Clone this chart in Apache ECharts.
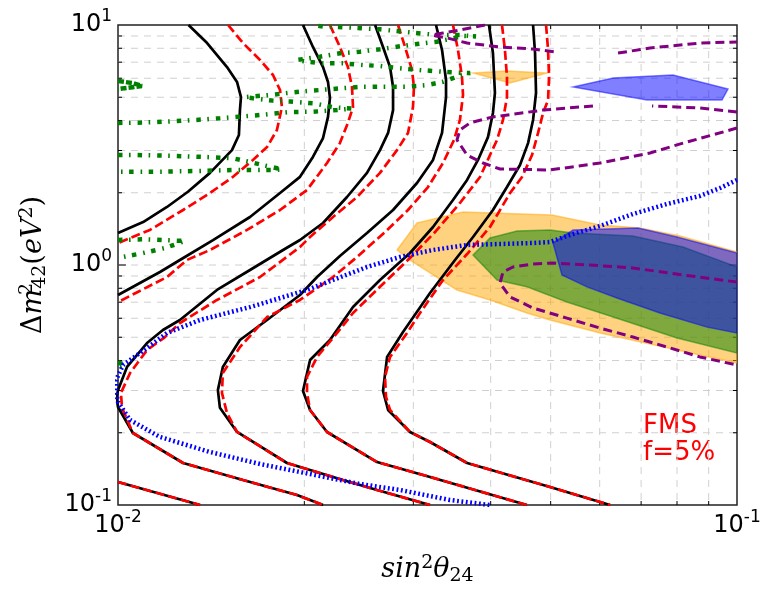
<!DOCTYPE html>
<html>
<head>
<meta charset="utf-8">
<script src="https://cdn.jsdelivr.net/npm/echarts@6/dist/echarts.min.js"></script>
<style>
  html, body { margin: 0; padding: 0; background: #fff; }
  #chart { width: 775px; height: 596px; }
</style>
</head>
<body>
<div id="chart"></div>
<script>
// dashed grid positions (inside each decade)
const gridX = [0.02, 0.03, 0.04, 0.05, 0.06, 0.07, 0.08, 0.09];
const gridY = [0.2, 0.3, 0.4, 0.5, 0.6, 0.7, 0.8, 0.9, 1, 2, 3, 4, 5, 6, 7, 8, 9];

// black solid contours
const blackA = [[0.0130,10],[0.01393,8.41],[0.0150,6.68],[0.01557,5.79],[0.0158,5.01],[0.01574,4.42],[0.01568,3.48],[0.01528,3.01],[0.01408,2.42],[0.01297,2.02],[0.0120,1.745],[0.01098,1.51],[0.0100,1.36]];
const blackB = [[0.0199,10],[0.02065,8.10],[0.02144,6.68],[0.02184,5.79],[0.0220,4.97],[0.02184,4.14],[0.02144,3.38],[0.02065,2.82],[0.01968,2.33],[0.01827,1.995],[0.01634,1.585],[0.01424,1.27],[0.01259,1.049],[0.01169,0.935],[0.0100,0.750]];
const lowB = [[0.0100,0.1247],[0.01357,0.1]];
const blackC = [[0.02602,10],[0.0268,8.10],[0.02751,6.68],[0.02782,5.52],[0.02782,4.42],[0.02731,3.55],[0.0265,3.01],[0.02525,2.42],[0.02344,1.92],[0.02144,1.496],[0.01968,1.271],[0.01848,1.155],[0.01634,0.953],[0.01445,0.787],[0.01259,0.590],[0.01182,0.536],[0.01114,0.473],[0.01034,0.376],[0.0100,0.301],[0.00995,0.279],[0.0100,0.256],[0.01057,0.1995],[0.01274,0.1496],[0.01592,0.1271],[0.01946,0.110],[0.02144,0.1]];
const blackD = [[0.03264,10],[0.03338,7.87],[0.03388,5.90],[0.03388,5.01],[0.03338,3.55],[0.03228,2.74],[0.03041,2.196],[0.02782,1.695],[0.02525,1.359],[0.02283,1.090],[0.02097,0.891],[0.01968,0.750],[0.01741,0.590],[0.01574,0.487],[0.01477,0.376],[0.0145,0.301],[0.01461,0.254],[0.01557,0.2015],[0.01875,0.1496],[0.02309,0.1271],[0.02621,0.1155],[0.03192,0.1]];
const blackE = [[0.03975,10],[0.04034,7.64],[0.04064,5.21],[0.04034,4.30],[0.0396,3.41],[0.03816,2.74],[0.03664,2.261],[0.03477,1.866],[0.03228,1.44],[0.02963,1.122],[0.0265,0.866],[0.02397,0.668],[0.0220,0.487],[0.02043,0.402],[0.0199,0.2985],[0.02043,0.2488],[0.02176,0.2015],[0.02621,0.151],[0.03192,0.1309],[0.04577,0.1]];
const blackF = [[0.04683,10],[0.04718,7.64],[0.04735,5.21],[0.04683,4.02],[0.04597,3.22],[0.04461,2.611],[0.0425,2.113],[0.04034,1.695],[0.03746,1.308],[0.03503,1.049],[0.03192,0.764],[0.02887,0.526],[0.02721,0.414],[0.0268,0.2985],[0.02731,0.2488],[0.02963,0.2015],[0.03192,0.183],[0.03664,0.1496],[0.04988,0.1189],[0.06236,0.1]];

// red dashed contours
const redA = [[0.01506,10],[0.01592,8.41],[0.01696,7.15],[0.0178,6.19],[0.01827,5.36],[0.0184,4.55],[0.01806,3.65],[0.01741,3.10],[0.01652,2.74],[0.01534,2.33],[0.01408,1.995],[0.01274,1.695],[0.01126,1.40],[0.0100,1.235]];
const redB = [[0.0220,10],[0.02283,8.10],[0.02352,6.68],[0.02388,5.52],[0.02397,4.55],[0.02352,3.91],[0.02283,3.22],[0.02176,2.66],[0.0202,2.054],[0.01827,1.695],[0.01616,1.40],[0.01408,1.155],[0.01292,1.049],[0.0120,0.891],[0.0100,0.701]];
const redC = [[0.02834,10],[0.02909,8.10],[0.02985,6.49],[0.03007,5.52],[0.02996,4.55],[0.02941,3.55],[0.02823,3.01],[0.0265,2.42],[0.02433,1.92],[0.02225,1.585],[0.02043,1.308],[0.01968,1.189],[0.01696,0.891],[0.01445,0.715],[0.01259,0.573],[0.01191,0.501],[0.01114,0.442],[0.01046,0.355],[0.01011,0.293],[0.01015,0.254],[0.01057,0.1995],[0.01274,0.1496],[0.01592,0.1271],[0.01946,0.110],[0.02144,0.1]];
const redD = [[0.03477,10],[0.03542,7.87],[0.03595,6.07],[0.03609,5.11],[0.03568,4.02],[0.0349,3.32],[0.0335,2.66],[0.03168,2.113],[0.02941,1.695],[0.027,1.372],[0.02433,1.080],[0.02225,0.891],[0.01968,0.715],[0.01741,0.607],[0.01574,0.455],[0.01477,0.355],[0.01472,0.293],[0.0150,0.2416],[0.01557,0.2015],[0.01875,0.1496],[0.02309,0.1271],[0.02621,0.1155],[0.03192,0.1]];
const redE = [[0.04172,10],[0.04218,7.87],[0.0425,6.07],[0.0425,5.01],[0.04188,4.02],[0.04096,3.32],[0.0399,2.872],[0.03845,2.326],[0.03568,1.813],[0.03264,1.386],[0.02963,1.070],[0.0265,0.811],[0.02397,0.631],[0.02259,0.521],[0.02097,0.414],[0.0202,0.3415],[0.0202,0.293],[0.02043,0.2488],[0.02176,0.2015],[0.02621,0.151],[0.03192,0.1309],[0.04577,0.1]];
const redF = [[0.04915,10],[0.04952,7.87],[0.0497,6.07],[0.04952,4.87],[0.04861,4.30],[0.04771,3.55],[0.04665,2.872],[0.04495,2.326],[0.04299,1.995],[0.0399,1.44],[0.03664,1.111],[0.0335,0.866],[0.03075,0.631],[0.02931,0.521],[0.02751,0.414],[0.027,0.3415],[0.0271,0.2818],[0.02751,0.2488],[0.02963,0.2015],[0.03192,0.183],[0.03664,0.1496],[0.04988,0.1189],[0.06236,0.1]];

// blue dotted contour
const blueDot = [[0.1,2.261],[0.0939,2.093],[0.0871,1.939],[0.0771,1.796],[0.0679,1.631],[0.0601,1.454],[0.0531,1.321],[0.04988,1.247],[0.04683,1.235],[0.04141,1.223],[0.03664,1.212],[0.03228,1.155],[0.02855,1.080],[0.02525,0.981],[0.02225,0.866],[0.0202,0.787],[0.01634,0.668],[0.01357,0.590],[0.0120,0.521],[0.01114,0.451],[0.01019,0.383],[0.00993,0.332],[0.00993,0.296],[0.0100,0.2687],[0.01046,0.226],[0.01169,0.192],[0.01408,0.1663],[0.01696,0.1482],[0.02043,0.1346],[0.0246,0.1223],[0.02855,0.1155],[0.03438,0.1049],[0.0399,0.1]];

// purple dashed contours
const purpleTop = [[0.03916,10],[0.03568,9.53],[0.0335,9.26],[0.03216,9.08],[0.03401,8.83],[0.03664,8.41],[0.04141,8.10],[0.04683,7.94],[0.05082,7.72]];
const purpleTopRight = [[0.06424,7.64],[0.07236,8.02],[0.0871,8.41],[0.1,8.50]];
const purpleMidA = [[0.1,4.34],[0.0871,4.51],[0.0729,4.60]];
const purpleMidB = [[0.05852,4.60],[0.04861,4.42],[0.04034,4.14],[0.03705,3.91],[0.03568,3.65],[0.03529,3.32],[0.03664,2.872],[0.03887,2.661],[0.04141,2.512],[0.04988,2.489],[0.0601,2.661],[0.07236,2.929],[0.0818,3.22],[0.1,3.72]];
const purpleLow = [[0.1,0.849],[0.0818,0.909],[0.0679,0.972],[0.05787,1.0],[0.05044,1.019],[0.04683,1.01],[0.04346,0.981],[0.04188,0.935],[0.04141,0.841],[0.04299,0.736],[0.04683,0.662],[0.0531,0.601],[0.0601,0.546],[0.0679,0.501],[0.0771,0.455],[0.0871,0.414],[0.1,0.383]];

// green dash-dot contours
const greenMain = [[0.01,3.91],[0.01098,3.92],[0.01274,3.99],[0.01461,4.085],[0.01696,4.217],[0.01896,4.34],[0.02065,4.352],[0.02259,4.42],[0.02388,4.488],[0.02225,4.54],[0.02065,4.72],[0.01896,4.80],[0.0178,4.84],[0.01652,4.95],[0.01604,5.01],[0.0176,5.11],[0.01896,5.225],[0.02043,5.32],[0.0220,5.40],[0.02488,5.535],[0.02931,5.535],[0.03156,5.62],[0.0335,5.80],[0.03477,6.00],[0.03595,6.19],[0.03705,6.31],[0.03568,6.33],[0.0335,6.39],[0.03075,6.49],[0.02855,6.60],[0.0265,6.75],[0.02488,6.81],[0.02309,6.92],[0.02144,6.92],[0.0202,7.03],[0.01946,7.15],[0.0212,7.38],[0.02283,7.62],[0.0246,7.74],[0.0265,7.92],[0.02823,8.12],[0.03041,8.33],[0.03276,8.52],[0.03477,8.80],[0.03595,9.00],[0.03788,8.96],[0.03568,9.08],[0.03276,9.08],[0.02996,9.29],[0.0265,9.59],[0.02344,9.78],[0.02144,9.84],[0.02065,10]];
const greenTiny = [[0.01,5.84],[0.01057,5.73],[0.01093,5.57],[0.01015,5.44],[0.01,5.41]];
const greenMid = [[0.01,2.872],[0.01073,2.872],[0.01245,2.846],[0.01424,2.81],[0.01534,2.784],[0.01652,2.668],[0.0176,2.568],[0.0184,2.504],[0.0178,2.488],[0.01677,2.488],[0.01534,2.488],[0.01342,2.464],[0.01156,2.447],[0.01,2.447]];
const greenLow = [[0.01,1.271],[0.01098,1.28],[0.01283,1.259],[0.01191,1.177],[0.01098,1.122],[0.01,1.07]];
const greenDot = [[0.01,0.394],[0.01026,0.383],[0.01,0.372]];

// filled regions
const orangeBig = [[0.02823,1.155],[0.03041,1.496],[0.03609,1.663],[0.05025,1.616],[0.0601,1.468],[0.0697,1.426],[0.0809,1.321],[0.1,1.133],[0.1,0.391],[0.0871,0.422],[0.0601,0.521],[0.04988,0.590],[0.04577,0.631],[0.0399,0.715],[0.03529,0.787],[0.02963,1.049]];
const orangeSmall = [[0.03746,6.31],[0.0425,6.43],[0.04933,6.31],[0.04299,5.73]];
const greenFill = [[0.03746,1.101],[0.0399,1.296],[0.04412,1.386],[0.04988,1.399],[0.05433,1.359],[0.0679,1.321],[0.0818,1.189],[0.1,0.981],[0.1,0.43],[0.080,0.4966],[0.0631,0.607],[0.0531,0.701],[0.04577,0.811],[0.04096,0.866]];
const blueBig = [[0.05044,1.235],[0.05433,1.399],[0.0692,1.426],[0.080,1.308],[0.1,1.122],[0.1,0.521],[0.08945,0.551],[0.07507,0.631],[0.064,0.729],[0.05723,0.811],[0.05215,0.909]];
const blueSmall = [[0.05433,5.52],[0.0631,6.01],[0.07882,6.19],[0.0967,5.41],[0.09458,4.87],[0.07155,4.87]];

const SOLID = 'solid';
const RED_DASH = [9, 4];
const PURPLE_DASH = [9, 5];
const BLUE_DOT = [1.8, 2.6];
const GREEN_DASHDOT = [4.5, 6.5, 1.6, 7];

function curve(data, color, width, type) {
    return {
        type: 'line',
        data: data,
        symbol: 'none',
        smooth: false,
        clip: true,
        silent: true,
        animation: false,
        lineStyle: { color: color, width: width, type: type, cap: 'butt' },
        z: 3
    };
}

function region(points, fill, stroke) {
    return {
        type: 'custom',
        data: points,
        clip: true,
        silent: true,
        animation: false,
        z: 2,
        renderItem: (params, api) => {
            if (params.dataIndex !== 0) return null;
            return {
                type: 'polygon',
                shape: { points: points.map(p => api.coord(p)) },
                style: { fill: fill, stroke: stroke, lineWidth: 1.5 }
            };
        }
    };
}

// dashed grid + inside ticks on all four sides
const gridLinesX = {
    type: 'custom',
    data: gridX.map(v => [v, 1]),
    silent: true, animation: false, z: 1,
    renderItem: (params, api) => {
        const cs = params.coordSys;
        const x = api.coord([api.value(0), 1])[0];
        const top = cs.y, bottom = cs.y + cs.height;
        return {
            type: 'group',
            children: [
                { type: 'line', shape: { x1: x, y1: top, x2: x, y2: bottom }, style: { stroke: '#d0d0d0', lineWidth: 1, lineDash: [7, 6] } },
                { type: 'line', shape: { x1: x, y1: bottom, x2: x, y2: bottom - 4 }, style: { stroke: '#000', lineWidth: 1 } },
                { type: 'line', shape: { x1: x, y1: top, x2: x, y2: top + 4 }, style: { stroke: '#000', lineWidth: 1 } }
            ]
        };
    }
};
const gridLinesY = {
    type: 'custom',
    data: gridY.map(v => [0.02, v]),
    silent: true, animation: false, z: 1,
    renderItem: (params, api) => {
        const cs = params.coordSys;
        const v = api.value(1);
        const y = api.coord([0.02, v])[1];
        const left = cs.x, right = cs.x + cs.width;
        const len = v === 1 ? 8 : 4;
        return {
            type: 'group',
            children: [
                { type: 'line', shape: { x1: left, y1: y, x2: right, y2: y }, style: { stroke: '#d0d0d0', lineWidth: 1, lineDash: [7, 6] } },
                { type: 'line', shape: { x1: left, y1: y, x2: left + len, y2: y }, style: { stroke: '#000', lineWidth: 1 } },
                { type: 'line', shape: { x1: right, y1: y, x2: right - len, y2: y }, style: { stroke: '#000', lineWidth: 1 } }
            ]
        };
    }
};

const tickRich = {
    b: { fontSize: 24, lineHeight: 34, fontFamily: 'DejaVu Sans', color: '#000' },
    s: { fontSize: 17, lineHeight: 17, verticalAlign: 'top', fontFamily: 'DejaVu Sans', color: '#000' }
};
const powerLabel = v => '{b|10}{s|' + Math.round(Math.log10(v)) + '}';

const serif = 'DejaVu Serif';
const nameRich = {
    i: { fontSize: 27, lineHeight: 32, fontStyle: 'italic', fontFamily: serif, color: '#000' },
    n: { fontSize: 27, lineHeight: 32, fontFamily: serif, color: '#000' },
    p: { fontSize: 19, lineHeight: 19, verticalAlign: 'top', fontFamily: serif, color: '#000' },
    q: { fontSize: 19, lineHeight: 19, verticalAlign: 'top', fontFamily: serif, color: '#000', width: 0.1 },
    d: { fontSize: 19, lineHeight: 19, verticalAlign: 'bottom', fontFamily: serif, color: '#000' }
};

const chart = echarts.init(document.getElementById('chart'), null, { renderer: 'canvas' });

const option = {
    backgroundColor: '#fff',
    animation: false,
    grid: {
        left: 118, right: 38, top: 25, bottom: 91,
        show: true, borderColor: '#222', borderWidth: 1.5, backgroundColor: 'transparent'
    },
    xAxis: {
        type: 'log', logBase: 10, min: 0.01, max: 0.1,
        axisLine: { show: false }, axisTick: { show: false }, splitLine: { show: false },
        axisLabel: { formatter: powerLabel, rich: tickRich, margin: 4, showMinLabel: true, showMaxLabel: true },
        name: '{i|sin}{p|2}{i|θ}{d|24}',
        nameLocation: 'middle', nameGap: 49,
        nameTextStyle: { rich: nameRich }
    },
    yAxis: {
        type: 'log', logBase: 10, min: 0.1, max: 10,
        axisLine: { show: false }, axisTick: { show: false }, splitLine: { show: false },
        axisLabel: { formatter: powerLabel, rich: tickRich, margin: 6, showMinLabel: true, showMaxLabel: true },
        name: '{n|Δ}{i|m}{q|2}{d|42}{n|(}{i|eV}{p|2}{n|)}',
        nameLocation: 'middle', nameGap: 68, nameRotate: 90,
        nameTextStyle: { rich: nameRich }
    },
    graphic: [{
        type: 'text', left: 643, top: 413, silent: true,
        style: { text: 'FMS\nf=5%', fill: '#ff0000', font: '26px "DejaVu Sans"', lineHeight: 27 }
    }],
    series: [
        gridLinesX,
        gridLinesY,
        region(orangeBig, 'rgba(255,165,0,0.5)', 'rgba(255,165,0,0.5)'),
        region(orangeSmall, 'rgba(255,165,0,0.5)', 'rgba(255,165,0,0.5)'),
        region(greenFill, 'rgba(0,128,0,0.5)', 'rgba(0,128,0,0.5)'),
        region(blueBig, 'rgba(0,0,255,0.5)', 'rgba(0,0,255,0.5)'),
        region(blueSmall, 'rgba(0,0,255,0.5)', 'rgba(0,0,255,0.5)'),
        curve(blackA, '#000', 2.7, SOLID),
        curve(blackB, '#000', 2.7, SOLID),
        curve(lowB, '#000', 2.7, SOLID),
        curve(blackC, '#000', 2.7, SOLID),
        curve(blackD, '#000', 2.7, SOLID),
        curve(blackE, '#000', 2.7, SOLID),
        curve(blackF, '#000', 2.7, SOLID),
        curve(redA, '#ff0000', 2.7, RED_DASH),
        curve(redB, '#ff0000', 2.7, RED_DASH),
        curve(lowB, '#ff0000', 2.7, RED_DASH),
        curve(redC, '#ff0000', 2.7, RED_DASH),
        curve(redD, '#ff0000', 2.7, RED_DASH),
        curve(redE, '#ff0000', 2.7, RED_DASH),
        curve(redF, '#ff0000', 2.7, RED_DASH),
        curve(greenMain, '#008000', 4.5, GREEN_DASHDOT),
        curve(greenTiny, '#008000', 4.5, [6, 2]),
        curve(greenMid, '#008000', 4.5, GREEN_DASHDOT),
        curve(greenLow, '#008000', 4.5, GREEN_DASHDOT),
        curve(greenDot, '#008000', 4.5, GREEN_DASHDOT),
        curve(blueDot, '#0000ff', 4.5, BLUE_DOT),
        curve(purpleTop, '#800080', 3, PURPLE_DASH),
        curve(purpleTopRight, '#800080', 3, PURPLE_DASH),
        curve(purpleMidA, '#800080', 3, PURPLE_DASH),
        curve(purpleMidB, '#800080', 3, PURPLE_DASH),
        curve(purpleLow, '#800080', 3, PURPLE_DASH)
    ]
};

chart.setOption(option);
window.addEventListener('resize', () => chart.resize());
</script>
</body>
</html>
